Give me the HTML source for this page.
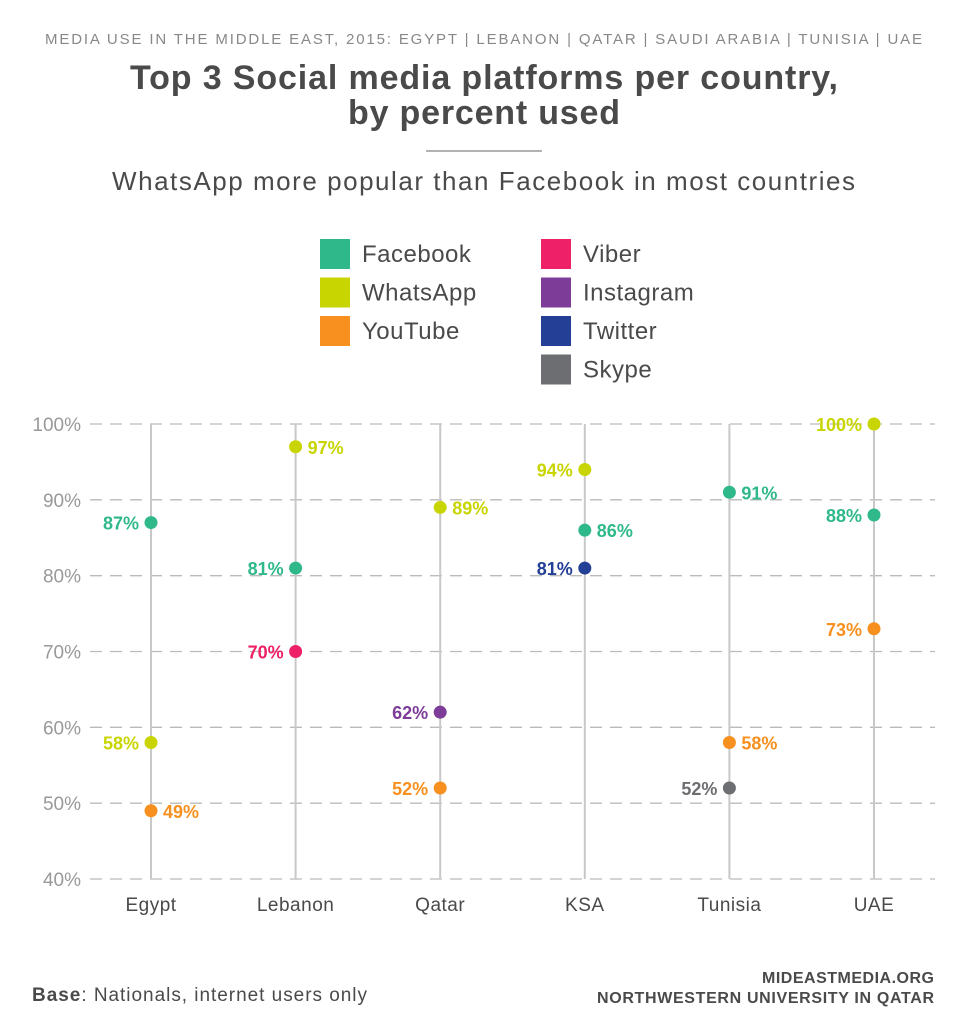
<!DOCTYPE html>
<html><head><meta charset="utf-8"><style>
body{margin:0;background:#fff;}
svg{display:block;font-family:"Liberation Sans",sans-serif;}
</style></head><body>
<svg id="chart" width="967" height="1024" viewBox="0 0 967 1024">
<text x="45" y="44" textLength="877" lengthAdjust="spacing" font-size="15" fill="#888">MEDIA USE IN THE MIDDLE EAST, 2015: EGYPT | LEBANON | QATAR | SAUDI ARABIA | TUNISIA | UAE</text>
<text x="130" y="89" textLength="708" lengthAdjust="spacing" font-size="34" font-weight="bold" fill="#4a4a4a">Top 3 Social media platforms per country,</text>
<text x="348" y="124" textLength="272" lengthAdjust="spacing" font-size="34" font-weight="bold" fill="#4a4a4a">by percent used</text>
<line x1="426" y1="151" x2="542" y2="151" stroke="#999" stroke-width="1.5"/>
<text x="112" y="190" textLength="743" lengthAdjust="spacing" font-size="26" fill="#4a4a4a">WhatsApp more popular than Facebook in most countries</text>
<g id="legend"></g>
<g id="grid"></g>
<g id="marks"></g>
<text x="32" y="1001" textLength="335" lengthAdjust="spacing" font-size="19" fill="#4a4a4a"><tspan font-weight="bold">Base</tspan>: Nationals, internet users only</text>
<text x="762" y="983" textLength="172" lengthAdjust="spacing" font-size="16" font-weight="bold" fill="#4a4a4a">MIDEASTMEDIA.ORG</text>
<text x="597" y="1003" textLength="337" lengthAdjust="spacing" font-size="16" font-weight="bold" fill="#4a4a4a">NORTHWESTERN UNIVERSITY IN QATAR</text>
</svg>
<script>
const countries = ["Egypt","Lebanon","Qatar","KSA","Tunisia","UAE"];
const yTicks = [40,50,60,70,80,90,100];
const platforms = ["Facebook","WhatsApp","YouTube","Viber","Instagram","Twitter","Skype"];
const platformColors = ["#2fb98a","#c8d500","#f7901e","#ee2168","#7d3c98","#233f96","#6d6e71"];
const pointCountry = [0,0,0, 1,1,1, 2,2,2, 3,3,3, 4,4,4, 5,5,5];
const pointPlatform = [0,1,2, 1,0,3, 1,4,2, 1,0,5, 0,2,6, 1,0,2];
const pointValues = [87,58,49, 97,81,70, 89,62,52, 94,86,81, 91,58,52, 100,88,73];
const labelSide = ["L","L","R", "R","L","L", "R","L","L", "L","R","L", "R","R","L", "L","L","L"];

const NS="http://www.w3.org/2000/svg";
function mk(tag,attrs,parent,text){const e=document.createElementNS(NS,tag);for(const k in attrs)e.setAttribute(k,attrs[k]);if(text!==undefined)e.textContent=text;parent.appendChild(e);return e;}
const yScale=v=>879-(v-40)*(879-424)/60;
const xScale=i=>151+i*144.6;

const legend=document.getElementById('legend');
platforms.forEach((p,i)=>{
  const col=i<3?0:1, row=i<3?i:i-3;
  const x=col===0?320:541, y=239+row*38.5;
  const g=mk('g',{},legend);
  
  
  mk('rect',{x:x,y:y,width:30,height:30,fill:platformColors[i]},g);
  mk('text',{x:x+42,y:y+23,'font-size':24,'letter-spacing':0.5,fill:'#4a4a4a'},g,p);
});

const grid=document.getElementById('grid');
yTicks.forEach(t=>{
  const y=yScale(t);
  const l=mk('line',{x1:90,y1:y,x2:935,y2:y,stroke:'#bbb','stroke-width':1.3,'stroke-dasharray':'12 8'},grid);
  
  
  const tx=mk('text',{x:81,y:y+7,'text-anchor':'end','font-size':19,fill:'#999'},grid,t+'%');
  
  
});
countries.forEach((c,i)=>{
  const x=xScale(i);
  const l=mk('line',{x1:x,y1:yScale(100),x2:x,y2:yScale(40),stroke:'#c8c8c8','stroke-width':2},grid);
  
  
  const t=mk('text',{x:x,y:911,'text-anchor':'middle','font-size':19,'letter-spacing':0.5,fill:'#4a4a4a'},grid,c);
  
  
});

const marks=document.getElementById('marks');
pointValues.forEach((v,i)=>{
  const x=xScale(pointCountry[i]), y=yScale(v), col=platformColors[pointPlatform[i]];
  const c=mk('circle',{cx:x,cy:y,r:6.5,fill:col},marks);
  
  
  const left=labelSide[i]==='L';
  const t=mk('text',{x:left?x-12:x+12,y:y+7,'text-anchor':left?'end':'start','font-size':18,'font-weight':'bold',fill:col},marks,v+'%');
  
  
});
</script>
</body></html>
